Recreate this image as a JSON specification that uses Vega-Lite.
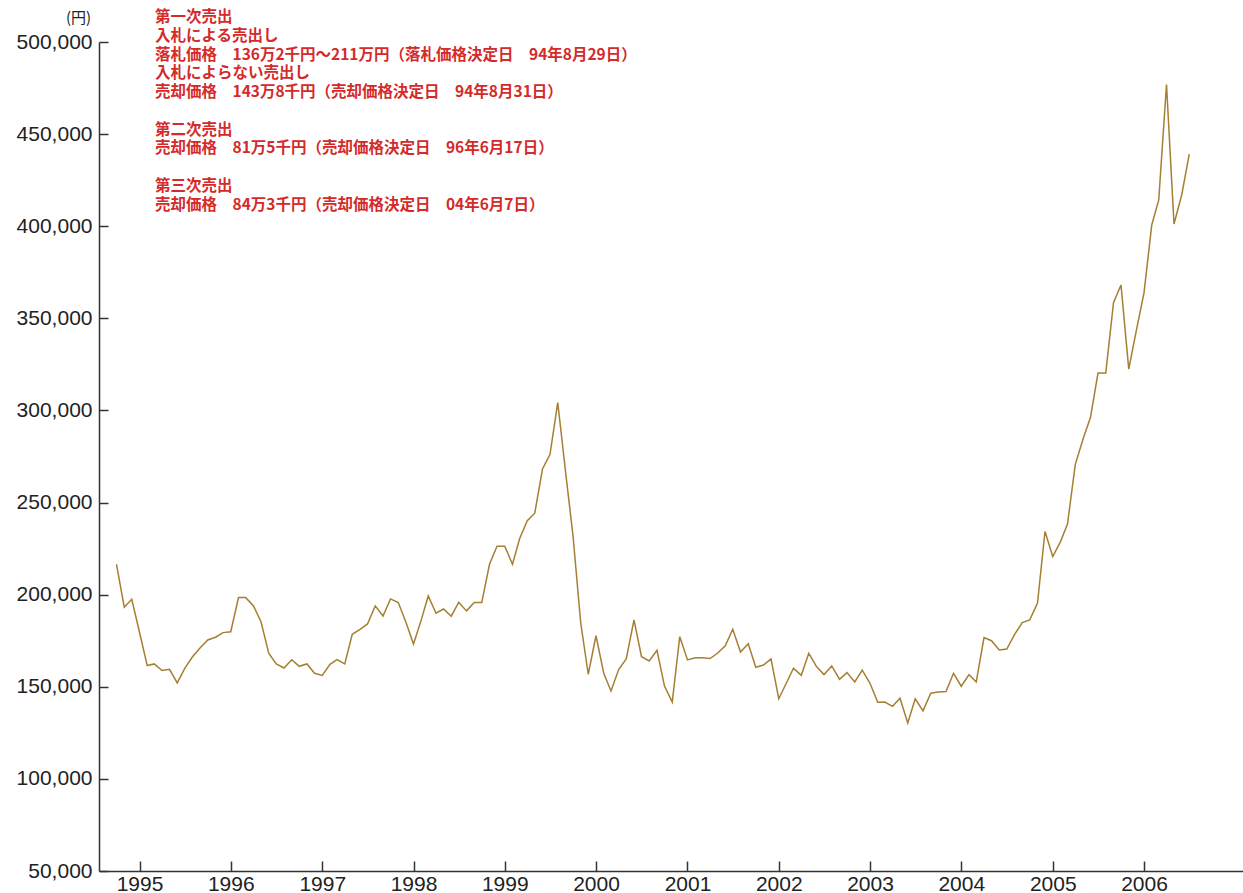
{
  "$schema": "https://vega.github.io/schema/vega-lite/v6.json",
  "width": 1144,
  "height": 829,
  "autosize": {"type": "none"},
  "padding": {"left": 99, "top": 42, "right": 0, "bottom": 22},
  "background": "white",
  "config": {
    "view": {"stroke": null},
    "text": {"align": "left", "baseline": "middle", "lineBreak": "\n", "lineHeight": 18.8, "font": "Noto Sans CJK JP", "fontSize": 15.5, "fontWeight": "bold", "color": "#d42a2a"}
  },
  "datasets": {
    "prices": [
      {"d":"1994-10-01","v":216500},{"d":"1994-11-01","v":193200},{"d":"1994-12-01","v":197500},
      {"d":"1995-01-01","v":179600},{"d":"1995-02-01","v":161500},{"d":"1995-03-01","v":162400},{"d":"1995-04-01","v":158800},{"d":"1995-05-01","v":159500},{"d":"1995-06-01","v":152100},{"d":"1995-07-01","v":160000},{"d":"1995-08-01","v":166300},{"d":"1995-09-01","v":171200},{"d":"1995-10-01","v":175400},{"d":"1995-11-01","v":176900},{"d":"1995-12-01","v":179400},
      {"d":"1996-01-01","v":179900},{"d":"1996-02-01","v":198400},{"d":"1996-03-01","v":198400},{"d":"1996-04-01","v":193900},{"d":"1996-05-01","v":185300},{"d":"1996-06-01","v":168200},{"d":"1996-07-01","v":162400},{"d":"1996-08-01","v":160200},{"d":"1996-09-01","v":164700},{"d":"1996-10-01","v":161100},{"d":"1996-11-01","v":162400},{"d":"1996-12-01","v":157300},
      {"d":"1997-01-01","v":156200},{"d":"1997-02-01","v":162200},{"d":"1997-03-01","v":164700},{"d":"1997-04-01","v":162400},{"d":"1997-05-01","v":178500},{"d":"1997-06-01","v":181200},{"d":"1997-07-01","v":184100},{"d":"1997-08-01","v":193900},{"d":"1997-09-01","v":188400},{"d":"1997-10-01","v":197700},{"d":"1997-11-01","v":195700},{"d":"1997-12-01","v":185300},
      {"d":"1998-01-01","v":173200},{"d":"1998-02-01","v":186300},{"d":"1998-03-01","v":199300},{"d":"1998-04-01","v":189900},{"d":"1998-05-01","v":192200},{"d":"1998-06-01","v":188300},{"d":"1998-07-01","v":195900},{"d":"1998-08-01","v":191200},{"d":"1998-09-01","v":195700},{"d":"1998-10-01","v":195700},{"d":"1998-11-01","v":216500},{"d":"1998-12-01","v":226300},
      {"d":"1999-01-01","v":226300},{"d":"1999-02-01","v":216500},{"d":"1999-03-01","v":230200},{"d":"1999-04-01","v":240200},{"d":"1999-05-01","v":244200},{"d":"1999-06-01","v":268200},{"d":"1999-07-01","v":276200},{"d":"1999-08-01","v":304300},{"d":"1999-09-01","v":267000},{"d":"1999-10-01","v":232000},{"d":"1999-11-01","v":184500},{"d":"1999-12-01","v":156800},
      {"d":"2000-01-01","v":177700},{"d":"2000-02-01","v":157300},{"d":"2000-03-01","v":147700},{"d":"2000-04-01","v":159500},{"d":"2000-05-01","v":165100},{"d":"2000-06-01","v":186300},{"d":"2000-07-01","v":166300},{"d":"2000-08-01","v":164000},{"d":"2000-09-01","v":169800},{"d":"2000-10-01","v":150400},{"d":"2000-11-01","v":141700},{"d":"2000-12-01","v":177200},
      {"d":"2001-01-01","v":164600},{"d":"2001-02-01","v":165800},{"d":"2001-03-01","v":165800},{"d":"2001-04-01","v":165300},{"d":"2001-05-01","v":168200},{"d":"2001-06-01","v":172200},{"d":"2001-07-01","v":181200},{"d":"2001-08-01","v":168900},{"d":"2001-09-01","v":173400},{"d":"2001-10-01","v":160600},{"d":"2001-11-01","v":161800},{"d":"2001-12-01","v":165100},
      {"d":"2002-01-01","v":143500},{"d":"2002-02-01","v":152200},{"d":"2002-03-01","v":160100},{"d":"2002-04-01","v":156200},{"d":"2002-05-01","v":168200},{"d":"2002-06-01","v":161000},{"d":"2002-07-01","v":156600},{"d":"2002-08-01","v":161300},{"d":"2002-09-01","v":154100},{"d":"2002-10-01","v":157700},{"d":"2002-11-01","v":152600},{"d":"2002-12-01","v":159000},
      {"d":"2003-01-01","v":151900},{"d":"2003-02-01","v":141600},{"d":"2003-03-01","v":141700},{"d":"2003-04-01","v":139400},{"d":"2003-05-01","v":143800},{"d":"2003-06-01","v":130300},{"d":"2003-07-01","v":143500},{"d":"2003-08-01","v":136900},{"d":"2003-09-01","v":146500},{"d":"2003-10-01","v":147200},{"d":"2003-11-01","v":147400},{"d":"2003-12-01","v":157300},
      {"d":"2004-01-01","v":150300},{"d":"2004-02-01","v":156600},{"d":"2004-03-01","v":152600},{"d":"2004-04-01","v":176700},{"d":"2004-05-01","v":175000},{"d":"2004-06-01","v":170000},{"d":"2004-07-01","v":170500},{"d":"2004-08-01","v":178300},{"d":"2004-09-01","v":184800},{"d":"2004-10-01","v":186300},{"d":"2004-11-01","v":195500},{"d":"2004-12-01","v":234300},
      {"d":"2005-01-01","v":220700},{"d":"2005-02-01","v":228800},{"d":"2005-03-01","v":238300},{"d":"2005-04-01","v":270600},{"d":"2005-05-01","v":284000},{"d":"2005-06-01","v":296300},{"d":"2005-07-01","v":320300},{"d":"2005-08-01","v":320300},{"d":"2005-09-01","v":358500},{"d":"2005-10-01","v":368100},{"d":"2005-11-01","v":322400},{"d":"2005-12-01","v":343200},
      {"d":"2006-01-01","v":363800},{"d":"2006-02-01","v":400700},{"d":"2006-03-01","v":414300},{"d":"2006-04-01","v":476900},{"d":"2006-05-01","v":401200},{"d":"2006-06-01","v":417100},{"d":"2006-07-01","v":439100}
    ],
    "note1": [
      {"note": "第一次売出\n入札による売出し\n落札価格　136万2千円〜211万円（落札価格決定日　94年8月29日）\n入札によらない売出し\n売却価格　143万8千円（売却価格決定日　94年8月31日）"}
    ],
    "note2": [
      {"note": "第二次売出\n売却価格　81万5千円（売却価格決定日　96年6月17日）"}
    ],
    "note3": [
      {"note": "第三次売出\n売却価格　84万3千円（売却価格決定日　04年6月7日）"}
    ]
  },
  "layer": [
    {
      "data": {"name": "prices"},
      "mark": {"type": "line", "color": "#a57f32", "strokeWidth": 1.5},
      "encoding": {
        "x": {
          "field": "d", "type": "temporal",
          "scale": {"type": "utc", "domain": [{"year": 1994, "month": 7, "date": 23, "utc": true}, {"year": 2007, "month": 2, "date": 1, "utc": true}]},
          "axis": {
            "title": null, "format": "%Y", "grid": false,
            "values": [
              {"year": 1995, "month": 1, "date": 1, "utc": true},
              {"year": 1996, "month": 1, "date": 1, "utc": true},
              {"year": 1997, "month": 1, "date": 1, "utc": true},
              {"year": 1998, "month": 1, "date": 1, "utc": true},
              {"year": 1999, "month": 1, "date": 1, "utc": true},
              {"year": 2000, "month": 1, "date": 1, "utc": true},
              {"year": 2001, "month": 1, "date": 1, "utc": true},
              {"year": 2002, "month": 1, "date": 1, "utc": true},
              {"year": 2003, "month": 1, "date": 1, "utc": true},
              {"year": 2004, "month": 1, "date": 1, "utc": true},
              {"year": 2005, "month": 1, "date": 1, "utc": true},
              {"year": 2006, "month": 1, "date": 1, "utc": true}
            ],
            "domainColor": "#333333", "domainWidth": 1.5,
            "tickColor": "#333333", "tickWidth": 1.5, "tickSize": -10,
            "labelFont": "Liberation Sans", "labelFontSize": 21, "labelColor": "#222222",
            "labelPadding": 12, "labelBaseline": "top", "labelFlush": false, "labelOverlap": false
          }
        },
        "y": {
          "field": "v", "type": "quantitative",
          "scale": {"domain": [50000, 500000], "nice": false, "zero": false},
          "axis": {
            "title": "(円)", "titleAngle": 0, "titleX": -21, "titleY": -25,
            "titleAlign": "center", "titleBaseline": "middle",
            "titleFont": "Noto Sans CJK JP", "titleFontSize": 15, "titleFontWeight": "normal", "titleColor": "#222222",
            "values": [50000, 100000, 150000, 200000, 250000, 300000, 350000, 400000, 450000, 500000],
            "format": ",d", "grid": false,
            "domainColor": "#333333", "domainWidth": 1.5,
            "tickColor": "#333333", "tickWidth": 1.5, "tickSize": -9,
            "labelFont": "Liberation Sans", "labelFontSize": 21, "labelColor": "#222222",
            "labelPadding": 16, "labelFlush": false, "labelOverlap": false
          }
        }
      }
    },
    {
      "data": {"name": "note1"},
      "mark": {"type": "text"},
      "encoding": {
        "x": {"datum": {"year": 1995, "month": 3, "date": 4, "utc": true}, "type": "temporal"},
        "y": {"datum": 513600, "type": "quantitative"},
        "text": {"field": "note"}
      }
    },
    {
      "data": {"name": "note2"},
      "mark": {"type": "text"},
      "encoding": {
        "x": {"datum": {"year": 1995, "month": 3, "date": 4, "utc": true}, "type": "temporal"},
        "y": {"datum": 452400, "type": "quantitative"},
        "text": {"field": "note"}
      }
    },
    {
      "data": {"name": "note3"},
      "mark": {"type": "text"},
      "encoding": {
        "x": {"datum": {"year": 1995, "month": 3, "date": 4, "utc": true}, "type": "temporal"},
        "y": {"datum": 421800, "type": "quantitative"},
        "text": {"field": "note"}
      }
    }
  ]
}
